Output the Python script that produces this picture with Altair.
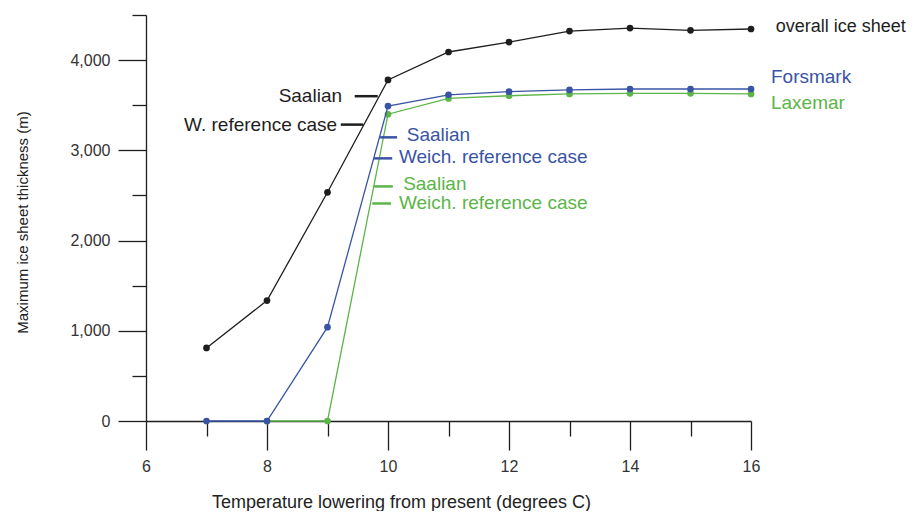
import altair as alt
import pandas as pd

# ---- data ----
temps = [7, 8, 9, 10, 11, 12, 13, 14, 15, 16]
overall = [810, 1335, 2535, 3780, 4090, 4200, 4322, 4355, 4330, 4345]
forsmark = [0, 0, 1040, 3490, 3615, 3650, 3670, 3680, 3680, 3680]
laxemar_temps = [8, 9, 10, 11, 12, 13, 14, 15, 16]
laxemar = [0, 0, 3400, 3575, 3605, 3625, 3632, 3632, 3625]

x_ticks = [6, 7, 8, 9, 10, 11, 12, 13, 14, 15, 16]
y_ticks = [0, 500, 1000, 1500, 2000, 2500, 3000, 3500, 4000, 4500]

BLACK = "#1e1e1e"
BLUE = "#3a54a5"
GREEN = "#5cb548"
FONT = "Liberation Sans"

# annotation labels (data coordinates)
lab_text = ["overall ice sheet", "Forsmark", "Laxemar", "Saalian", "W. reference case",
            "Saalian", "Weich. reference case", "Saalian", "Weich. reference case"]
lab_x = [16.41, 16.33, 16.33, 9.24, 9.16, 10.31, 10.18, 10.25, 10.18]
lab_y = [4367, 3811, 3522, 3600, 3285, 3167, 2922, 2622, 2411]
lab_align = ["left", "left", "left", "right", "right", "left", "left", "left", "left"]
lab_color = [BLACK, BLUE, GREEN, BLACK, BLACK, BLUE, BLUE, GREEN, GREEN]

dash_x1 = [9.45, 9.22, 9.87, 9.77, 9.77, 9.74]
dash_x2 = [9.83, 9.59, 10.15, 10.07, 10.08, 10.05]
dash_y = [3600, 3285, 3144, 2911, 2600, 2411]
dash_color = [BLACK, BLACK, BLUE, BLUE, GREEN, GREEN]

xs = alt.Scale(domain=[6, 16], nice=False, zero=False)
ys = alt.Scale(domain=[0, 4500], nice=False)

x_axis = alt.Axis(
    values=x_ticks,
    tickSize={"condition": {"test": "datum.value % 2 === 0", "value": 29}, "value": 15},
    labelExpr="datum.value % 2 === 0 ? format(datum.value, 'd') : ''",
    labelPadding=8, labelFlush=False, labelOverlap=False,
    title="Temperature lowering from present (degrees C)", titleFontSize=18,
    titleX=255, titleY=81, titleBaseline="middle", titleAlign="center")
y_axis = alt.Axis(
    values=y_ticks,
    tickSize={"condition": {"test": "datum.value % 1000 === 0", "value": 28}, "value": 14},
    labelExpr="datum.value % 1000 === 0 ? format(datum.value, ',') : ''",
    labelPadding=8, labelFlush=False, labelOverlap=False,
    title="Maximum ice sheet thickness (m)", titleFontSize=15,
    titleX=-124, titleY=207, titleAngle=-90, titleBaseline="middle", titleAlign="center")


def series(t, v, color, with_axes=False):
    df = pd.DataFrame({"t": t, "v": v})
    if with_axes:
        base = alt.Chart(df).encode(x=alt.X("t:Q", scale=xs, axis=x_axis),
                                    y=alt.Y("v:Q", scale=ys, axis=y_axis))
    else:
        base = alt.Chart(df).encode(x=alt.X("t:Q", scale=xs), y=alt.Y("v:Q", scale=ys))
    line = base.mark_line(color=color, strokeWidth=1.3)
    pts = base.mark_circle(color=color, size=45, opacity=1)
    return line, pts


black_line, black_pts = series(temps, overall, BLACK, with_axes=True)
green_line, green_pts = series(laxemar_temps, laxemar, GREEN)
blue_line, blue_pts = series(temps, forsmark, BLUE)

labels_df = pd.DataFrame({"text": lab_text, "t": lab_x, "v": lab_y,
                          "align": lab_align, "color": lab_color})
dash_df = pd.DataFrame({"t": dash_x1, "t2": dash_x2, "v": dash_y, "color": dash_color})


def text_layer(df, align, size):
    return alt.Chart(df).mark_text(
        align=align, baseline="middle", font=FONT, fontSize=size
    ).encode(
        x=alt.X("t:Q", scale=xs),
        y=alt.Y("v:Q", scale=ys),
        text="text:N",
        color=alt.Color("color:N", scale=None),
    )


label_layers = [
    text_layer(labels_df.iloc[:1], "left", 18),
    text_layer(labels_df.iloc[1:][labels_df.iloc[1:]["align"] == "left"], "left", 19),
    text_layer(labels_df[labels_df["align"] == "right"], "right", 19),
]

dashes = alt.Chart(dash_df).mark_rule(strokeWidth=2.5).encode(
    x=alt.X("t:Q", scale=xs),
    x2="t2:Q",
    y=alt.Y("v:Q", scale=ys),
    color=alt.Color("color:N", scale=None),
)

chart = alt.layer(
    black_line, black_pts, green_line, green_pts, blue_line, blue_pts, dashes, *label_layers
).properties(
    width=605, height=406,
    autosize=alt.AutoSizeParams(type="none"),
    padding={"left": 138, "top": 7, "right": 159, "bottom": 90},
    background="white",
).configure_view(stroke=None).configure_axis(
    grid=False, domainColor=BLACK, tickColor=BLACK, domainWidth=1.3, tickWidth=1.3,
    labelFont=FONT, labelFontSize=16, labelColor="#333333",
    titleFont=FONT, titleFontWeight="normal", titleColor="#222222",
)

chart.save("out.html", embed_options={"renderer": "svg", "actions": False})
